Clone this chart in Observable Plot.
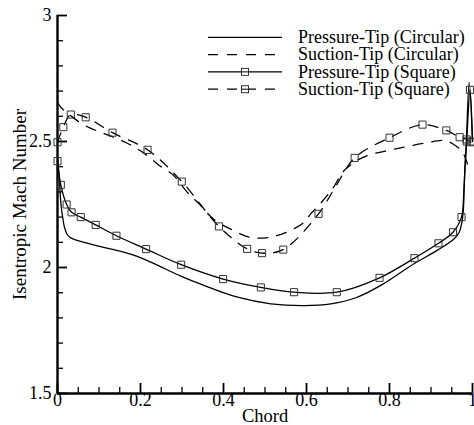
<!DOCTYPE html>
<html><head><meta charset="utf-8">
<script src="https://cdn.jsdelivr.net/npm/d3@7"></script>
<script src="https://cdn.jsdelivr.net/npm/@observablehq/plot@0.6"></script>
<style>body{margin:0;background:#fff}#chart{width:474px;height:425px}</style>
</head><body><div id="chart"></div>
<script>
// [chord, Mach]
const pressureCircular = [
[0.000,2.44],[0.002,2.40],[0.004,2.36],[0.006,2.306],[0.009,2.24],[0.012,2.205],[0.016,2.165],[0.022,2.135],[0.030,2.12],[0.040,2.112],[0.064,2.100],[0.104,2.083],[0.145,2.067],[0.185,2.048],[0.225,2.021],[0.260,1.994],[0.297,1.966],[0.353,1.929],[0.434,1.882],[0.514,1.856],[0.594,1.849],[0.659,1.856],[0.719,1.880],[0.779,1.929],[0.859,2.015],[0.916,2.069],[0.956,2.114],[0.968,2.14],[0.974,2.175],[0.978,2.23],[0.980,2.32],[0.982,2.40],[0.985,2.49],[0.992,2.735],[1.0,2.50]
];
const suctionCircular = [
[0.000,2.656],[0.008,2.636],[0.030,2.605],[0.064,2.565],[0.124,2.524],[0.167,2.494],[0.210,2.452],[0.242,2.409],[0.280,2.365],[0.311,2.302],[0.345,2.246],[0.377,2.190],[0.420,2.150],[0.463,2.120],[0.509,2.119],[0.556,2.143],[0.594,2.179],[0.610,2.213],[0.627,2.242],[0.650,2.286],[0.665,2.318],[0.687,2.378],[0.705,2.405],[0.725,2.428],[0.750,2.446],[0.779,2.458],[0.827,2.475],[0.883,2.493],[0.932,2.504],[0.952,2.491],[0.976,2.458],[0.988,2.41]
];
// [chord, Mach, marker?]
const pressureSquare = [
[0.000,2.422,1],[0.008,2.328,1],[0.022,2.250,1],[0.034,2.219,1],[0.056,2.200,1],[0.092,2.169,1],[0.142,2.126,1],[0.2135,2.073,1],[0.298,2.011,1],[0.399,1.954,1],[0.490,1.921,1],[0.570,1.902,1],[0.673,1.902,1],[0.776,1.959,1],[0.860,2.037,1],[0.918,2.096,1],[0.953,2.140,1],[0.9735,2.200,1],[0.979,2.30,0],[0.982,2.40,0],[0.986,2.50,1],[0.994,2.705,1],[1.0,2.50,1]
];
const suctionSquare = [
[0.000,2.497,1],[0.014,2.557,1],[0.032,2.607,1],[0.068,2.596,1],[0.1325,2.535,1],[0.217,2.467,1],[0.2995,2.341,1],[0.389,2.163,1],[0.457,2.074,1],[0.493,2.057,1],[0.544,2.071,1],[0.629,2.213,1],[0.668,2.315,0],[0.716,2.435,1],[0.800,2.515,1],[0.8795,2.567,1],[0.937,2.544,1],[0.969,2.517,1],[0.986,2.508,1],[0.996,2.497,1]
];
const seriesNames = ["Pressure-Tip (Circular)","Suction-Tip (Circular)","Pressure-Tip (Square)","Suction-Tip (Square)"];
const seriesData = [pressureCircular, suctionCircular, pressureSquare, suctionSquare];
const seriesDash = [null, "10,9", null, "10,9"];
const seriesMarker = [false, false, true, true];

const xMajor = [0,0.2,0.4,0.6,0.8,1];
const xTickLabels = ["0","0.2","0.4","0.6","0.8","1"];
const xMinor = [0.05,0.1,0.15,0.25,0.3,0.35,0.45,0.5,0.55,0.65,0.7,0.75,0.85,0.9,0.95];
const yMajor = [1.5,2,2.5,3];
const yTickLabels = ["1.5","2","2.5","3"];
const yMinor = [1.6,1.7,1.8,1.9,2.1,2.2,2.3,2.4,2.6,2.7,2.8,2.9];

const FONT = "'Liberation Serif', 'Times New Roman', Times, serif";
const W = 474, H = 425, ML = 57, MR = 2, MT = 15, MB = 32;
const FW = W - ML - MR, FH = H - MT - MB;

const lineMarks = [], dotMarks = [];
seriesData.forEach((arr, i) => {
  const rows = arr.map(d => ({c: d[0], m: d[1], mk: d[2]}));
  lineMarks.push(Plot.line(rows, {x: "c", y: "m", stroke: "#000", strokeWidth: 1.3, strokeDasharray: seriesDash[i], curve: "catmull-rom"}));
  if (seriesMarker[i]) dotMarks.push(Plot.dot(rows.filter(r => r.mk), {x: "c", y: "m", symbol: "square", r: 4, stroke: "#333", strokeWidth: 1, fill: "none"}));
});

const plot = Plot.plot({
  width: W, height: H,
  marginLeft: ML, marginRight: MR, marginTop: MT, marginBottom: MB,
  x: {domain: [0, 1]}, y: {domain: [1.5, 3]},
  style: {fontFamily: FONT, fontSize: "18px", color: "#000", background: "#fff", overflow: "visible"},
  marks: [
    // inward ticks
    Plot.ruleX(xMinor, {x: d => d, insetTop: FH - 6, stroke: "#000", strokeWidth: 1.3}),
    Plot.ruleX(xMajor, {x: d => d, insetTop: FH - 10, stroke: "#000", strokeWidth: 1.8}),
    Plot.ruleY(yMinor, {y: d => d, insetRight: FW - 6, stroke: "#000", strokeWidth: 1.3}),
    Plot.ruleY(yMajor, {y: d => d, insetRight: FW - 10, stroke: "#000", strokeWidth: 1.8}),
    Plot.axisX(xMajor, {tickSize: 0, tickPadding: 0, tickFormat: d => xTickLabels[xMajor.indexOf(d)], fontSize: 18, label: null}),
    Plot.axisY(yMajor, {tickSize: 0, tickPadding: 6, tickFormat: d => yTickLabels[yMajor.indexOf(d)], fontSize: 18, label: null}),
    Plot.ruleX([0], {stroke: "#000", strokeWidth: 2.4}),
    Plot.ruleY([1.5], {stroke: "#000", strokeWidth: 2.4}),
    ...lineMarks,
    ...dotMarks,
    Plot.text(["Chord"], {frameAnchor: "bottom", dy: 23, fontSize: 18.5, textAnchor: "middle", lineAnchor: "middle"}),
    Plot.text(["Isentropic Mach Number"], {frameAnchor: "left", rotate: -90, dx: -38, fontSize: 19, textAnchor: "middle", lineAnchor: "middle"})
  ]
});
document.getElementById("chart").appendChild(plot);

// legend
const svg = d3.select(plot);
const lg = svg.append("g").attr("font-family", FONT).attr("font-size", 18).attr("text-anchor", "start");
const lx0 = 208, lx1 = 282, ltx = 298, ly0 = 37.3, lstep = 17.3;
seriesNames.forEach((name, i) => {
  const y = ly0 + i * lstep;
  lg.append("line").attr("x1", lx0).attr("x2", lx1).attr("y1", y).attr("y2", y)
    .attr("stroke", "#000").attr("stroke-width", 1.3).attr("stroke-dasharray", seriesDash[i] || null);
  if (seriesMarker[i]) {
    lg.append("rect").attr("x", (lx0 + lx1) / 2 - 3.5).attr("y", y - 3.5).attr("width", 7).attr("height", 7)
      .attr("fill", "#fff").attr("stroke", "#333").attr("stroke-width", 1);
    lg.append("line").attr("x1", (lx0 + lx1) / 2 - 3.5).attr("x2", (lx0 + lx1) / 2 + 3.5).attr("y1", y).attr("y2", y)
      .attr("stroke", "#000").attr("stroke-width", 1);
  }
  lg.append("text").attr("x", ltx).attr("y", y).attr("dy", "0.32em").attr("text-anchor", "start").text(name);
});
</script></body></html>
